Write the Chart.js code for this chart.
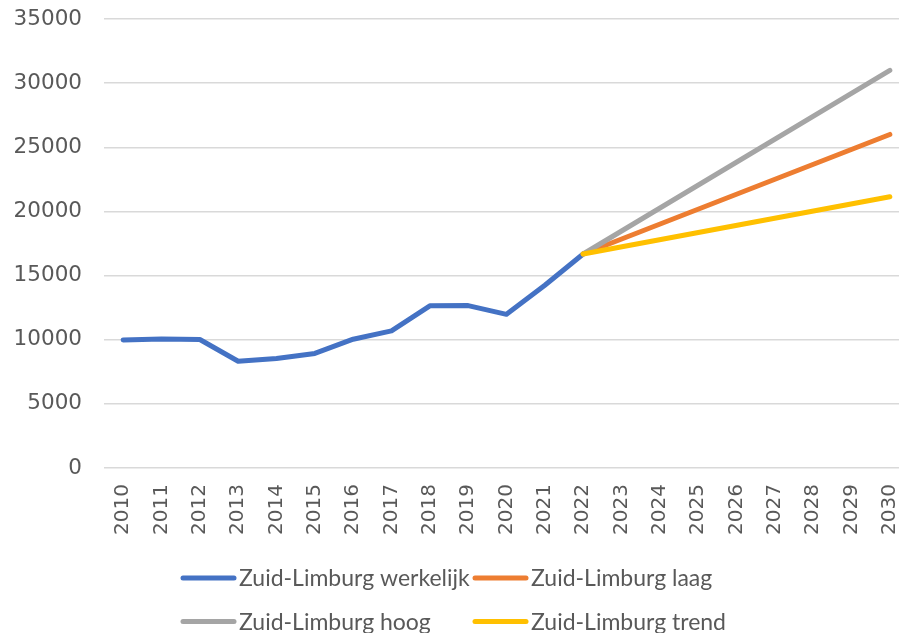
<!DOCTYPE html>
<html>
<head>
<meta charset="utf-8">
<script src="https://cdn.jsdelivr.net/npm/chart.js@4/dist/chart.umd.min.js"></script>
<style>
html,body{margin:0;padding:0;background:#fff;overflow:hidden;}
#wrap{position:relative;width:911px;height:633px;}
</style>
</head>
<body>
<div id="wrap"><canvas id="c" width="911" height="633"></canvas></div>
<script>
const years = ['2010','2011','2012','2013','2014','2015','2016','2017','2018','2019','2020','2021','2022','2023','2024','2025','2026','2027','2028','2029','2030'];
const werkelijk = [9980,10060,10020,8320,8540,8930,10040,10690,12640,12660,11980,14250,16680,null,null,null,null,null,null,null,null];
const laag  = [null,null,null,null,null,null,null,null,null,null,null,null,16680,null,null,null,null,null,null,null,26000];
const hoog  = [null,null,null,null,null,null,null,null,null,null,null,null,16680,null,null,null,null,null,null,null,31000];
const trend = [null,null,null,null,null,null,null,null,null,null,null,null,16680,null,null,null,null,null,null,null,21150];
const yTicks = [0,5000,10000,15000,20000,25000,30000,35000];
const seriesNames = ['Zuid-Limburg werkelijk','Zuid-Limburg laag','Zuid-Limburg hoog','Zuid-Limburg trend'];
const seriesColors = ['#4472C4','#ED7D31','#A5A5A5','#FFC000'];

const legendPlugin = {
  id: 'gridLegend',
  afterDraw(chart) {
    const ctx = chart.ctx;
    const ds = chart.data.datasets;
    const cols = [181, 473];
    const rows = [578, 621.5];
    ctx.save();
    ctx.font = '23px Lato';
    ctx.textBaseline = 'middle';
    ctx.textAlign = 'left';
    ds.forEach((d, i) => {
      const x = cols[i % 2], y = rows[Math.floor(i / 2)];
      ctx.strokeStyle = d.borderColor;
      ctx.lineWidth = 5;
      ctx.lineCap = 'round';
      ctx.beginPath();
      ctx.moveTo(x + 2, y);
      ctx.lineTo(x + 53, y);
      ctx.stroke();
      ctx.fillStyle = '#595959';
      ctx.fillText(d.label, x + 58, y + 1);
    });
    ctx.restore();
  }
};

const mk = (i, data) => ({
  label: seriesNames[i],
  data: data,
  borderColor: seriesColors[i],
  backgroundColor: seriesColors[i],
  borderWidth: 5,
  pointRadius: 0,
  pointHoverRadius: 0,
  borderCapStyle: 'round',
  borderJoinStyle: 'round',
  spanGaps: true,
  tension: 0,
  fill: false,
  order: 4 - i
});

new Chart(document.getElementById('c'), {
  type: 'line',
  data: {
    labels: years,
    datasets: [mk(0, werkelijk), mk(1, laag), mk(2, hoog), mk(3, trend)]
  },
  options: {
    responsive: false,
    animation: false,
    events: [],
    layout: { autoPadding: false, padding: { top: 19, right: 2, left: 0, bottom: 0 } },
    plugins: { legend: { display: false }, tooltip: { enabled: false } },
    scales: {
      x: {
        offset: true,
        grid: { display: false, drawTicks: false },
        border: { display: false },
        ticks: {
          minRotation: 90, maxRotation: 90, autoSkip: false,
          padding: 16,
          color: '#595959',
          font: { family: 'DejaVu Sans', size: 20 }
        },
        afterFit(scale) { scale.height = 165; scale.paddingLeft = 0; scale.paddingRight = 0; }
      },
      y: {
        min: 0, max: 35000,
        afterBuildTicks(scale) { scale.ticks = yTicks.map(v => ({ value: v })); },
        grid: { color: '#D9D9D9', lineWidth: 1.5, drawTicks: false },
        border: { display: false },
        ticks: {
          padding: 22,
          color: '#595959',
          font: { family: 'DejaVu Sans', size: 21.5 },
          callback: (v) => String(v)
        },
        afterFit(scale) { scale.width = 104; scale.paddingTop = 0; scale.paddingBottom = 0; }
      }
    }
  },
  plugins: [legendPlugin]
});
</script>
</body>
</html>
